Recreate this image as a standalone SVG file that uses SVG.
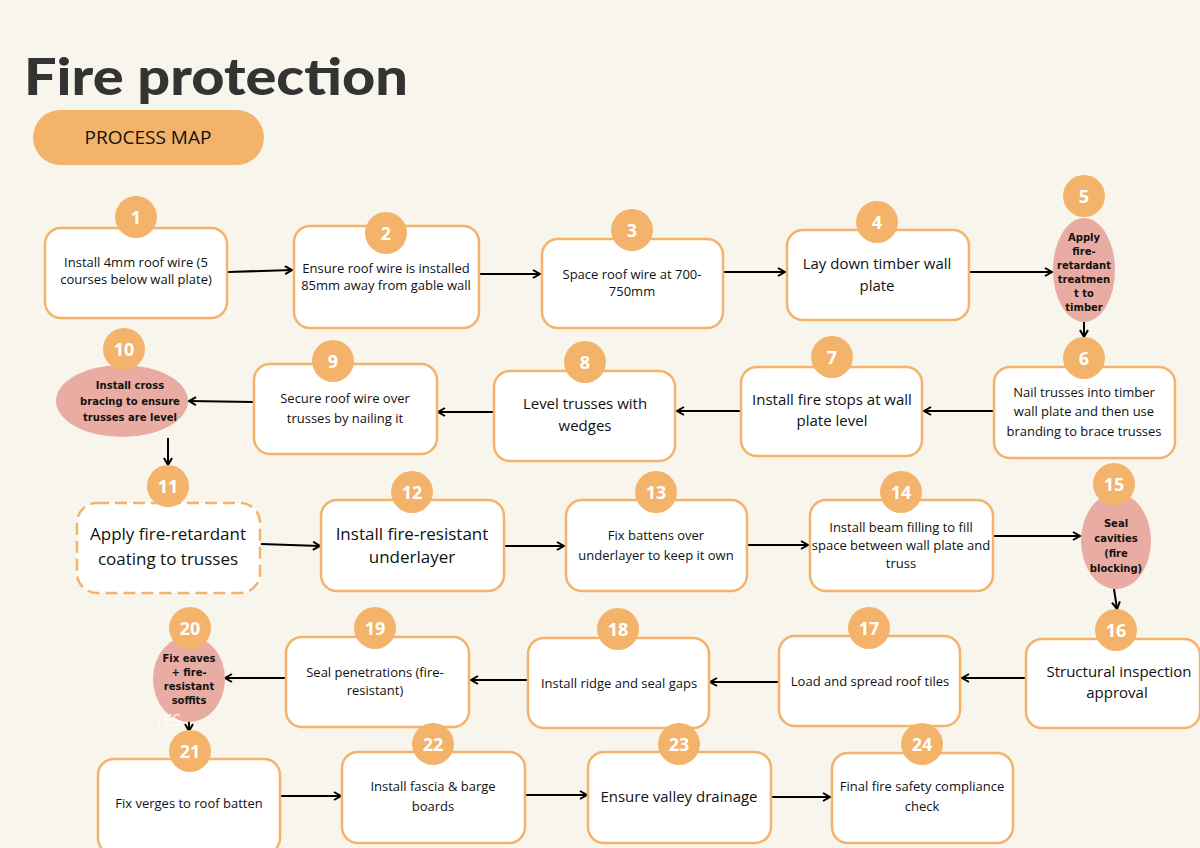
<svg xmlns="http://www.w3.org/2000/svg" width="1200" height="848" viewBox="0 0 1200 848">
<defs>
<marker id="ah" markerWidth="10" markerHeight="10" refX="8" refY="5" orient="auto" markerUnits="userSpaceOnUse"><path d="M1,1 L8,5 L1,9" fill="none" stroke="#000" stroke-width="2"/></marker>
<style>
.b{fill:#fff;stroke:#f3b36a;stroke-width:2.5}
.d{fill:#fff;stroke:#f3b36a;stroke-width:2.5;stroke-dasharray:12 6}
.c{fill:#f3b36a}
.p{fill:#e9aca3}
.n{font-family:"Open Sans","DejaVu Sans",sans-serif;font-weight:bold;font-size:18px;fill:#fff;text-anchor:middle}
.t{font-family:"Open Sans","Liberation Sans",sans-serif;font-size:13px;fill:#111;text-anchor:middle}
.m{font-family:"Open Sans","Liberation Sans",sans-serif;font-size:15px;fill:#111;text-anchor:middle}
.l{font-family:"Open Sans","Liberation Sans",sans-serif;font-size:17px;fill:#111;text-anchor:middle}
.k{font-family:"DejaVu Sans",sans-serif;font-weight:bold;font-size:10px;fill:#111;text-anchor:middle}
.a{stroke:#000;stroke-width:2;fill:none;marker-end:url(#ah)}
</style>
</defs>
<rect width="1200" height="848" fill="#f8f5ec"/>
<text x="24" y="95" font-family="Lato,'DejaVu Sans',sans-serif" font-weight="900" font-size="52" fill="#333" textLength="384" lengthAdjust="spacingAndGlyphs">Fire protection</text>
<rect x="33" y="110" width="231" height="55" rx="27.5" fill="#f3b36a"/>
<text x="148" y="144" font-family="'Open Sans','Liberation Sans',sans-serif" font-size="19" fill="#111" text-anchor="middle">PROCESS MAP</text>
<g id="connectors">
<line class="a" x1="228" y1="272" x2="292" y2="270"/>
<line class="a" x1="480" y1="274" x2="540" y2="274"/>
<line class="a" x1="724" y1="272" x2="785" y2="272"/>
<line class="a" x1="970" y1="272" x2="1052" y2="272"/>
<line class="a" x1="1084" y1="322" x2="1084" y2="337"/>
<line class="a" x1="993" y1="411" x2="924" y2="411"/>
<line class="a" x1="740" y1="411" x2="677" y2="411"/>
<line class="a" x1="493" y1="412" x2="438" y2="412"/>
<line class="a" x1="253" y1="402" x2="189" y2="401"/>
<line class="a" x1="168" y1="438" x2="168" y2="465"/>
<line class="a" x1="261" y1="544" x2="320" y2="546"/>
<line class="a" x1="505" y1="546" x2="564" y2="546"/>
<line class="a" x1="748" y1="545" x2="808" y2="545"/>
<line class="a" x1="994" y1="536" x2="1080" y2="536"/>
<line class="a" x1="1114" y1="589" x2="1117" y2="609"/>
<line class="a" x1="1025" y1="678" x2="962" y2="678"/>
<line class="a" x1="778" y1="682" x2="710" y2="682"/>
<line class="a" x1="528" y1="680" x2="471" y2="680"/>
<line class="a" x1="285" y1="678" x2="225" y2="678"/>
<line class="a" x1="189" y1="711" x2="189" y2="731"/>
<line class="a" x1="281" y1="796" x2="341" y2="796"/>
<line class="a" x1="525" y1="795" x2="587" y2="795"/>
<line class="a" x1="772" y1="797" x2="830" y2="797"/>
</g>
<g id="n1"><rect class="b" x="45" y="228" width="182" height="90" rx="16"/><circle class="c" cx="136" cy="217" r="21"/><text class="n" x="136" y="224">1</text><text class="t" x="136" y="267">Install 4mm roof wire (5</text><text class="t" x="136" y="284">courses below wall plate)</text></g>
<g id="n2"><rect class="b" x="294" y="226" width="185" height="102" rx="16"/><circle class="c" cx="386" cy="233" r="21"/><text class="n" x="386" y="240">2</text><text class="t" x="386" y="273">Ensure roof wire is installed</text><text class="t" x="386" y="290">85mm away from gable wall</text></g>
<g id="n3"><rect class="b" x="542" y="239" width="181" height="89" rx="16"/><circle class="c" cx="632" cy="230" r="21"/><text class="n" x="632" y="237">3</text><text class="t" x="632" y="279">Space roof wire at 700-</text><text class="t" x="632" y="296">750mm</text></g>
<g id="n4"><rect class="b" x="787" y="230" width="182" height="90" rx="16"/><circle class="c" cx="877" cy="222" r="21"/><text class="n" x="877" y="229">4</text><text class="m" x="877" y="269">Lay down timber wall</text><text class="m" x="877" y="291">plate</text></g>
<g id="n5"><ellipse class="p" cx="1084" cy="270" rx="31" ry="52"/><circle class="c" cx="1084" cy="196" r="21"/><text class="n" x="1084" y="203">5</text><text class="k" x="1084" y="241">Apply</text><text class="k" x="1084" y="255">fire-</text><text class="k" x="1084" y="269">retardant</text><text class="k" x="1084" y="283">treatmen</text><text class="k" x="1084" y="297">t to</text><text class="k" x="1084" y="311">timber</text></g>
<g id="n6"><rect class="b" x="994" y="367" width="181" height="91" rx="16"/><circle class="c" cx="1084" cy="358" r="21"/><text class="n" x="1084" y="365">6</text><text class="t" x="1084" y="397">Nail trusses into timber</text><text class="t" x="1084" y="416">wall plate and then use</text><text class="t" x="1084" y="436">branding to brace trusses</text></g>
<g id="n7"><rect class="b" x="741" y="367" width="181" height="89" rx="16"/><circle class="c" cx="832" cy="357" r="21"/><text class="n" x="832" y="364">7</text><text class="m" x="832" y="405">Install fire stops at wall</text><text class="m" x="832" y="426">plate level</text></g>
<g id="n8"><rect class="b" x="494" y="371" width="181" height="90" rx="16"/><circle class="c" cx="585" cy="362" r="21"/><text class="n" x="585" y="369">8</text><text class="m" x="585" y="409">Level trusses with</text><text class="m" x="585" y="431">wedges</text></g>
<g id="n9"><rect class="b" x="254" y="364" width="183" height="90" rx="16"/><circle class="c" cx="333" cy="361" r="21"/><text class="n" x="333" y="368">9</text><text class="t" x="345" y="403">Secure roof wire over</text><text class="t" x="345" y="423">trusses by nailing it</text></g>
<g id="n10"><ellipse class="p" cx="122" cy="401" rx="66" ry="36"/><circle class="c" cx="124" cy="349" r="21"/><text class="n" x="124" y="356">10</text><text class="k" x="130" y="389">Install cross</text><text class="k" x="130" y="405">bracing to ensure</text><text class="k" x="130" y="421">trusses are level</text></g>
<g id="n11"><rect class="d" x="77" y="503" width="183" height="90" rx="20"/><circle class="c" cx="168" cy="486" r="21"/><text class="n" x="168" y="493">11</text><text class="l" x="168" y="540">Apply fire-retardant</text><text class="l" x="168" y="565">coating to trusses</text></g>
<g id="n12"><rect class="b" x="321" y="500" width="183" height="91" rx="16"/><circle class="c" cx="412" cy="492" r="21"/><text class="n" x="412" y="499">12</text><text class="l" x="412" y="540">Install fire-resistant</text><text class="l" x="412" y="563">underlayer</text></g>
<g id="n13"><rect class="b" x="566" y="500" width="181" height="91" rx="16"/><circle class="c" cx="656" cy="492" r="21"/><text class="n" x="656" y="499">13</text><text class="t" x="656" y="540">Fix battens over</text><text class="t" x="656" y="560">underlayer to keep it own</text></g>
<g id="n14"><rect class="b" x="810" y="500" width="183" height="91" rx="16"/><circle class="c" cx="901" cy="492" r="21"/><text class="n" x="901" y="499">14</text><text class="t" x="901" y="532" font-size="12">Install beam filling to fill</text><text class="t" x="901" y="550" font-size="12">space between wall plate and</text><text class="t" x="901" y="568" font-size="12">truss</text></g>
<g id="n15"><ellipse class="p" cx="1116" cy="541" rx="35" ry="48"/><circle class="c" cx="1114" cy="484" r="21"/><text class="n" x="1114" y="491">15</text><text class="k" x="1116" y="527">Seal</text><text class="k" x="1116" y="542">cavities</text><text class="k" x="1116" y="557">(fire</text><text class="k" x="1116" y="572">blocking)</text></g>
<g id="n16"><rect class="b" x="1026" y="639" width="174" height="89" rx="16"/><circle class="c" cx="1116" cy="630" r="21"/><text class="n" x="1116" y="637">16</text><text class="m" x="1119" y="677">Structural inspection</text><text class="m" x="1117" y="698">approval</text></g>
<g id="n17"><rect class="b" x="779" y="636" width="181" height="90" rx="16"/><circle class="c" cx="869" cy="628" r="21"/><text class="n" x="869" y="635">17</text><text class="t" x="870" y="686">Load and spread roof tiles</text></g>
<g id="n18"><rect class="b" x="528" y="638" width="181" height="90" rx="16"/><circle class="c" cx="618" cy="629" r="21"/><text class="n" x="618" y="636">18</text><text class="t" x="619" y="688">Install ridge and seal gaps</text></g>
<g id="n19"><rect class="b" x="286" y="637" width="183" height="90" rx="16"/><circle class="c" cx="375" cy="628" r="21"/><text class="n" x="375" y="635">19</text><text class="t" x="375" y="677">Seal penetrations (fire-</text><text class="t" x="375" y="695">resistant)</text></g>
<g id="n20"><ellipse class="p" cx="189" cy="679" rx="36" ry="43"/><circle class="c" cx="190" cy="628" r="21"/><text class="n" x="190" y="635">20</text><text class="k" x="189" y="662">Fix eaves</text><text class="k" x="189" y="676">+ fire-</text><text class="k" x="189" y="690">resistant</text><text class="k" x="189" y="704">soffits</text><text x="168" y="726" font-family="'Open Sans',sans-serif" font-size="16" fill="#fff" fill-opacity="0.8" text-anchor="middle">YES</text></g>
<g id="n21"><rect class="b" x="98" y="759" width="182" height="95" rx="16"/><circle class="c" cx="190" cy="751" r="21"/><text class="n" x="190" y="758">21</text><text class="t" x="189" y="808">Fix verges to roof batten</text></g>
<g id="n22"><rect class="b" x="342" y="752" width="183" height="91" rx="16"/><circle class="c" cx="433" cy="744" r="21"/><text class="n" x="433" y="751">22</text><text class="t" x="433" y="791">Install fascia &amp; barge</text><text class="t" x="433" y="811">boards</text></g>
<g id="n23"><rect class="b" x="588" y="752" width="183" height="91" rx="16"/><circle class="c" cx="679" cy="744" r="21"/><text class="n" x="679" y="751">23</text><text class="m" x="679" y="802">Ensure valley drainage</text></g>
<g id="n24"><rect class="b" x="832" y="753" width="181" height="90" rx="16"/><circle class="c" cx="922" cy="744" r="21"/><text class="n" x="922" y="751">24</text><text class="t" x="922" y="791">Final fire safety compliance</text><text class="t" x="922" y="811">check</text></g>
</svg>
